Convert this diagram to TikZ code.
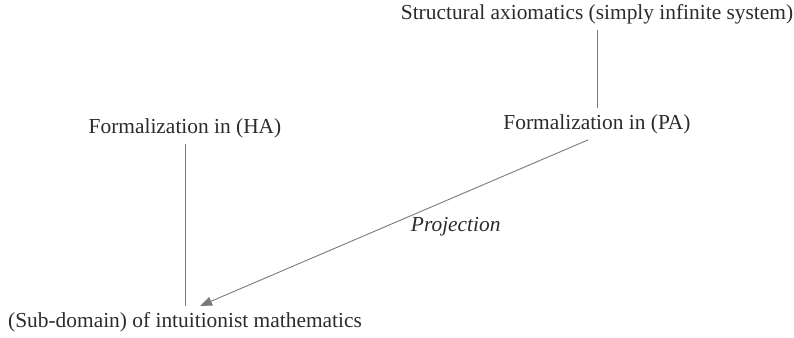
\documentclass[tikz,border=0pt]{standalone}
\usepackage{fontspec}
\setmainfont{Liberation Serif}
\usetikzlibrary{positioning,arrows.meta,calc}
\definecolor{textGrey}{HTML}{2b2b2b}
\definecolor{lineGrey}{HTML}{7a7a7a}

\begin{document}
\begin{tikzpicture}[x=1pt,y=1pt,
  term/.style={inner sep=6pt,text=textGrey,font=\fontsize{21.4}{24}\selectfont},
  link/.style={draw=lineGrey,line width=0.9pt},
  proj/.style={link,-{Triangle[length=12pt,width=9pt]},color=lineGrey}]
\useasboundingbox (0,0) rectangle (794,337);
\node[term] (axioms) at (597,323) {Structural axiomatics (simply infinite system)};
\node[term] (pa) at (597,213) {Formalization in (PA)};
\node[term] (ha) at (185,209) {Formalization in (HA)};
\node[term] (intu) at (185,15) {(Sub-domain) of intuitionist mathematics};
\draw[link] (axioms.south) -- (pa.north);
\draw[link] (ha.south) -- (intu.north);
\draw[proj] ([xshift=-9pt]pa.south) -- node[pos=0.46,anchor=north west,term,inner sep=1pt] (projlabel) {\itshape Projection} ([xshift=15pt]intu.north);
\end{tikzpicture}
\end{document}
